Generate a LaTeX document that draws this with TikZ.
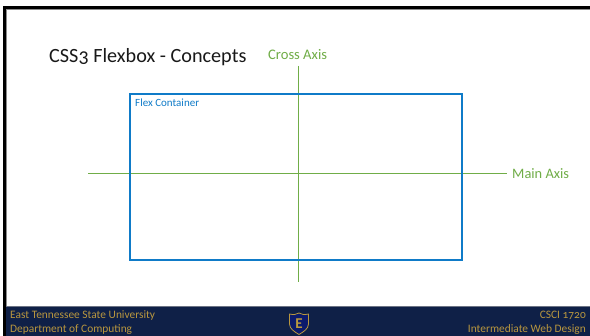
\documentclass[tikz,border=0pt]{standalone}
\usepackage{fontspec}
\setmainfont[Numbers=OldStyle]{Carlito}
\definecolor{navy}{HTML}{0F2047}
\definecolor{gold}{HTML}{B9973F}
\definecolor{boxblue}{HTML}{0F7BC8}
\definecolor{axisgreen}{HTML}{70AD47}
\tikzset{
 lbl/.style={inner sep=0pt,anchor=base west},
 lblr/.style={inner sep=0pt,anchor=base east},
 axis/.style={draw=axisgreen,line width=0.8pt},
 foot/.style={text=gold,font=\fontsize{11.4}{12}\selectfont},
}
\begin{document}
\begin{tikzpicture}[x=1pt,y=-1pt]
\useasboundingbox (0,0) rectangle (590,336);
\fill[white] (0,0) rectangle (590,336);
\fill[black!45] (6,9) rectangle (590,10);
\fill[black!45] (6,9) rectangle (7,306);
\fill[black] (3,6) rectangle (590,9);
\fill[black] (3,6) rectangle (6.3,336);
\fill[navy] (6.3,306) rectangle (590,336);
\draw[color=black!30!navy!60!white,line width=0.5pt] (6.3,306) -- (590,306);
\node[lbl,text=black!90,font=\fontsize{20.2}{20}\selectfont] (title) at (49,63) {CSS3 Flexbox - Concepts};
\node[lbl,text=axisgreen,font=\fontsize{14.6}{15}\selectfont] (cross) at (268,59.8) {Cross Axis};
\node[lbl,text=axisgreen,font=\fontsize{14.4}{15}\selectfont] (mainl) at (512,178.6) {Main Axis};
\coordinate (ct) at (298.5,66);
\coordinate (cb) at (298.5,282);
\coordinate (ml) at (88,173.5);
\coordinate (mr) at (507,173.5);
\draw[axis] (ct) -- (cb);
\draw[axis] (ml) -- (mr);
\node[draw=boxblue,line width=2pt,outer sep=0pt,minimum width=332pt,minimum height=166.5pt,inner sep=0pt,anchor=north west] (box) at (130,94) {};
\node[lbl,text=boxblue,font=\fontsize{11}{11}\selectfont] (boxl) at (135,107) {Flex Container};
\node[lbl,foot] (f1) at (10,319) {East Tennessee State University};
\node[lbl,foot] (f2) at (10,332.5) {Department of Computing};
\node[lblr,foot] (f3) at (586,319) {CSCI 1720};
\node[lblr,foot] (f4) at (586,332.5) {Intermediate Web Design};
\draw[gold,fill=navy!80!blue,line width=0.8pt] (289.5,314) .. controls (294,315) and (296,314.5) .. (299,313) .. controls (302,314.5) and (304,315) .. (308.5,314) -- (308.5,324) .. controls (308.5,329) and (303,332) .. (299,334.5) .. controls (295,332) and (289.5,329) .. (289.5,324) -- cycle;
\node[inner sep=0pt,text=gold,font=\fontsize{15}{15}\selectfont\bfseries] (logo) at (299,323.5) {E};
\end{tikzpicture}
\end{document}
